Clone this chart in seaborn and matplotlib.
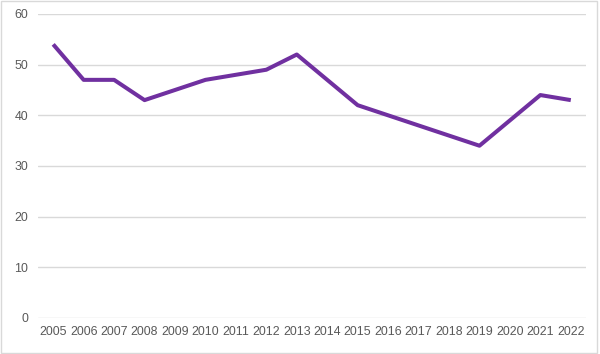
import pandas as pd
import seaborn as sns
import matplotlib.pyplot as plt
from matplotlib.patches import Rectangle

# values
years = ["2005", "2006", "2007", "2008", "2009", "2010", "2011", "2012", "2013",
         "2014", "2015", "2016", "2017", "2018", "2019", "2020", "2021", "2022"]
values = [54, 47, 47, 43, 45, 47, 48, 49, 52, 47, 42, 40, 38, 36, 34, 39, 44, 43]

df = pd.DataFrame({"year": years, "value": values})

sns.set_style("white")
plt.rcParams["font.family"] = ["Liberation Sans", "DejaVu Sans"]

fig = plt.figure(figsize=(6, 3.54), dpi=100, facecolor="white")
ax = fig.add_axes([0.0633, 0.1017, 0.9134, 0.8588])

sns.lineplot(data=df, x="year", y="value", color="#7030a0", linewidth=2.9,
             solid_capstyle="butt", ax=ax)

ax.set_xlim(-0.5, len(years) - 0.5)
ax.set_ylim(0, 60)
ax.set_yticks(range(0, 61, 10))
ax.set_xlabel("")
ax.set_ylabel("")
ax.grid(axis="y", color="#d9d9d9", linewidth=1)
ax.set_axisbelow(True)
for s in ax.spines.values():
    s.set_visible(False)
ax.tick_params(axis="both", length=0, labelsize=8.9, labelcolor="#595959")
ax.tick_params(axis="y", pad=7)
ax.tick_params(axis="x", pad=5.5)

# light border round the chart area
fig.patches.append(Rectangle((0.001, 0.002), 0.994, 0.995, transform=fig.transFigure,
                             fill=False, edgecolor="#d9d9d9", linewidth=1))

fig.savefig("out.png", dpi=100)
